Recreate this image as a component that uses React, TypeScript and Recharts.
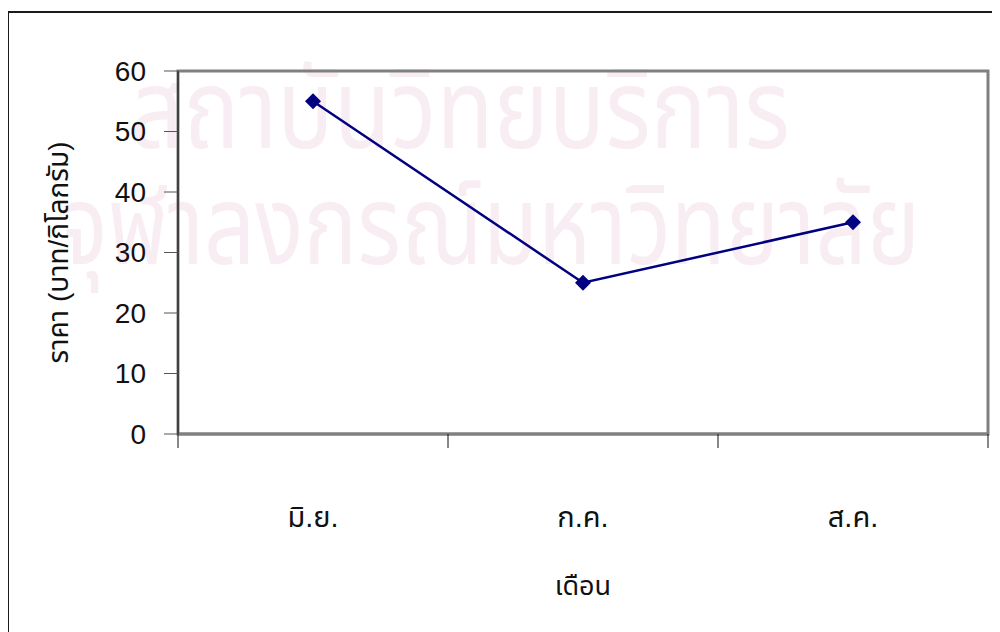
import React from 'react'
import {
  LineChart,
  Line,
  XAxis,
  YAxis,
  ReferenceArea,
} from 'recharts'

const months = ['มิ.ย.', 'ก.ค.', 'ส.ค.']
const prices = [55, 25, 35]
const priceTicks = [0, 10, 20, 30, 40, 50, 60]
const yTitle = 'ราคา (บาท/กิโลกรัม)'
const xTitle = 'เดือน'
const stampLines = ['สถาบันวิทยบริการ', 'จุฬาลงกรณ์มหาวิทยาลัย']

// each month sits in the middle of its own slot on a 0..3 axis
const data = months.map((m, i) => ({ slot: i + 0.5, month: m, price: prices[i] }))
const slotEdges = months.map((_, i) => i).concat(months.length)
const slotMids = data.map((d) => d.slot)

const font = '"Liberation Sans", "Noto Sans", "Noto Sans Thai", sans-serif'

const Diamond = (props: any) => {
  const { cx, cy } = props
  if (cx == null || cy == null) return null
  const r = 8
  return (
    <path
      d={`M${cx},${cy - r}L${cx + r},${cy}L${cx},${cy + r}L${cx - r},${cy}Z`}
      fill="#000080"
      stroke="none"
    />
  )
}

export default function App() {
  return (
    <div style={{ position: 'relative', width: 992, height: 624, overflow: 'hidden', fontFamily: font }}>
      <svg width={992} height={624} style={{ position: 'absolute', left: 0, top: 0 }}>
        <text x={452} y={140} fontSize={110} fill="#f8edf2" textAnchor="middle" textLength={660} lengthAdjust="spacingAndGlyphs" fontFamily={font}>
          {stampLines[0]}
        </text>
        <text x={482} y={256} fontSize={110} fill="#f8edf2" textAnchor="middle" textLength={860} lengthAdjust="spacingAndGlyphs" fontFamily={font}>
          {stampLines[1]}
        </text>
      </svg>
      <div
        style={{
          position: 'absolute',
          left: -1,
          top: 3,
          width: 1100,
          height: 700,
          border: '2px solid #1a1a1a',
        }}
      />
      <div style={{ position: 'absolute', left: 0, top: 0 }}>
        <LineChart width={992} height={624} data={data} margin={{ top: 63, right: 12, bottom: 84, left: 110 }}>
          <ReferenceArea
            xAxisId="edges"
            x1={0}
            x2={3}
            y1={0}
            y2={60}
            fill="none"
            stroke="#808080"
            strokeWidth={3}
          />
          <XAxis
            xAxisId="edges"
            type="number"
            dataKey="slot"
            domain={[0, 3]}
            ticks={slotEdges}
            height={14}
            tickSize={14}
            tickFormatter={() => ''}
            axisLine={{ stroke: '#808080', strokeWidth: 3 }}
            tickLine={{ stroke: '#111' }}
          />
          <XAxis
            xAxisId="months"
            type="number"
            dataKey="slot"
            domain={[0, 3]}
            ticks={slotMids}
            height={100}
            tickSize={0}
            tickMargin={58}
            tickFormatter={(v: number) => months[Math.floor(v)]}
            axisLine={false}
            tickLine={false}
            tick={{ fontSize: 29, fill: '#111', fontFamily: font }}
            label={{ value: xTitle, position: 'center', dy: 87, fontSize: 27, fill: '#111', fontFamily: font }}
          />
          <YAxis
            type="number"
            domain={[0, 60]}
            ticks={priceTicks}
            width={60}
            tickSize={14}
            tickMargin={18}
            axisLine={{ stroke: '#000' }}
            tickLine={{ stroke: '#555' }}
            tick={{ fontSize: 28, fill: '#111', fontFamily: font }}
            label={{ value: yTitle, angle: -90, position: 'center', dx: -90, fontSize: 28, fill: '#111', fontFamily: font }}
          />
          <Line
            xAxisId="months"
            dataKey="price"
            stroke="#000080"
            strokeWidth={2.5}
            dot={<Diamond />}
            activeDot={false}
            isAnimationActive={false}
          />
        </LineChart>
      </div>
    </div>
  )
}
